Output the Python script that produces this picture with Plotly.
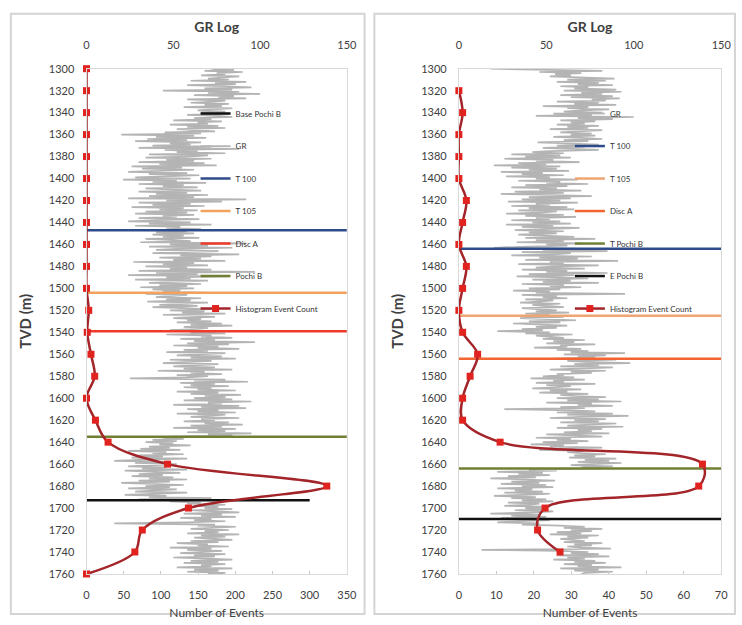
import numpy as np
import plotly.graph_objects as go

W, H = 742, 625
FONT = "Lato"
TXT = "#404040"

# ---------------- data ----------------
# Histogram event counts, one value per 20 m depth bin
ev_depth_a = list(range(1300, 1761, 20))
ev_count_a = [0, 0, 0, 0, 0, 0, 0, 0, 0, 0, 0, 3, 1, 6, 11, 0, 12, 29, 109, 323, 137, 75, 65, 0]
ev_depth_b = list(range(1320, 1741, 20))
ev_count_b = [0, 1, 0, 0, 0, 2, 1, 0, 2, 1, 0, 1, 5, 3, 1, 1, 11, 65, 64, 23, 21, 27]

# Gamma-ray log (API), 1 m samples from 1300 m to 1760 m
gr_a = [
    72, 85, 68, 90, 75, 80, 66, 88, 78, 70,
    82, 60, 92, 74, 86, 58, 79, 95, 68, 84,
    44, 88, 70, 100, 62, 85, 76, 92, 58, 80,
    73, 60, 82, 68, 78, 56, 84, 70, 64, 80,
    66, 82, 58, 76, 84, 62, 72, 50, 78, 64,
    70, 48, 76, 58, 80, 52, 68, 74, 45, 66,
    20, 62, 40, 69, 35, 58, 28, 66, 48, 60,
    38, 72, 30, 88, 45, 64, 52, 80, 36, 70,
    58, 34, 72, 46, 62, 30, 68, 42, 75, 26,
    55, 32, 62, 40, 24, 58, 36, 65, 44, 28,
    60, 21, 52, 38, 69, 30, 56, 44, 64, 34,
    48, 66, 30, 58, 40, 70, 36, 62, 24, 92,
    46, 78, 30, 60, 38, 68, 26, 56, 42, 64,
    34, 58, 28, 62, 44, 52, 30, 65, 40, 24,
    60, 36, 72, 28, 54, 46, 66, 33, 58, 40,
    62, 38, 56, 44, 65, 34, 50, 60, 31, 92,
    48, 70, 36, 84, 52, 40, 76, 58, 38, 88,
    54, 72, 42, 66, 50, 80, 27, 62, 44, 70,
    34, 58, 48, 72, 30, 97, 40, 64, 24, 82,
    46, 60, 28, 70, 52, 36, 66, 42, 58, 31,
    62, 38, 54, 44, 71, 34, 58, 48, 40, 66,
    46, 60, 35, 70, 52, 42, 64, 38, 56, 72,
    48, 68, 55, 80, 44, 62, 74, 50, 66, 58,
    72, 52, 78, 60, 84, 56, 70, 64, 48, 76,
    60, 80, 46, 72, 66, 84, 54, 74, 62, 97,
    58, 82, 50, 76, 64, 88, 56, 70, 46, 80,
    66, 52, 78, 60, 86, 48, 72, 58, 44, 76,
    62, 50, 74, 56, 84, 41, 68, 60, 78, 52,
    70, 58, 25, 80, 62, 93, 54, 74, 60, 82,
    56, 72, 64, 86, 52, 76, 60, 89, 68, 80,
    62, 84, 56, 95, 70, 78, 50, 88, 66, 92,
    58, 76, 64, 86, 52, 80, 70, 60, 88, 66,
    74, 56, 82, 68, 90, 60, 78, 50, 86, 64,
    80, 58, 95, 70, 84, 48, 44, 56, 38, 52,
    34, 50, 42, 60, 36, 48, 31, 54, 24, 46,
    38, 56, 30, 44, 26, 58, 34, 16, 48, 28,
    52, 36, 24, 46, 32, 58, 22, 40, 54, 30,
    44, 26, 50, 36, 58, 30, 48, 20, 42, 56,
    34, 48, 24, 52, 38, 28, 58, 40, 22, 46,
    36, 72, 30, 60, 48, 66, 58, 80, 62, 76,
    68, 84, 60, 74, 88, 56, 78, 66, 86, 54,
    72, 62, 80, 58, 16, 74, 64, 86, 70, 60,
    82, 68, 76, 58, 88, 66, 80, 62, 74, 84,
    60, 76, 52, 70, 64, 82, 48, 72, 58, 78,
    66, 54, 80, 62, 74, 50, 70, 84, 60, 76,
    56, 80, 66, 72, 52, 84, 62, 76, 58, 80,
    70,
]
gr_b = [
    18, 60, 82, 46, 70, 55, 64, 52, 78, 89,
    62, 84, 56, 80, 68, 88, 58, 74, 66, 90,
    60, 93, 70, 82, 58, 88, 64, 92, 76, 84,
    56, 80, 66, 90, 48, 74, 62, 86, 70, 60,
    82, 54, 76, 44, 100, 68, 88, 58, 78, 64,
    72, 56, 80, 62, 74, 52, 82, 66, 58, 76,
    64, 78, 54, 70, 82, 60, 74, 45, 68, 80,
    56, 72, 48, 66, 80, 52, 42, 60, 30, 58,
    38, 64, 26, 54, 44, 69, 34, 50, 20, 58,
    30, 56, 40, 63, 24, 48, 36, 60, 27, 52,
    44, 68, 34, 58, 50, 74, 38, 62, 30, 56,
    46, 70, 32, 60, 24, 54, 76, 40, 64, 36,
    58, 28, 68, 44, 52, 30, 62, 40, 66, 34,
    56, 46, 27, 60, 38, 67, 44, 52, 30, 58,
    42, 64, 27, 54, 36, 69, 46, 32, 60, 40,
    56, 34, 48, 66, 38, 78, 44, 60, 33, 70,
    50, 62, 40, 20, 72, 48, 85, 36, 64, 54,
    30, 76, 46, 68, 38, 91, 52, 60, 34, 80,
    56, 44, 72, 36, 62, 50, 85, 40, 66, 33,
    58, 74, 42, 64, 48, 80, 36, 60, 52, 70,
    40, 58, 31, 52, 44, 95, 36, 56, 48, 62,
    38, 54, 46, 35, 58, 42, 50, 60, 36, 48,
    56, 44, 63, 38, 52, 46, 60, 35, 54, 67,
    40, 58, 31, 50, 62, 44, 56, 36, 48, 22,
    52, 38, 65, 44, 56, 60, 48, 72, 54, 66,
    50, 78, 58, 62, 43, 70, 56, 74, 64, 95,
    60, 84, 68, 78, 54, 90, 62, 72, 98, 66,
    80, 58, 88, 70, 52, 84, 64, 76, 56, 60,
    48, 66, 41, 72, 54, 60, 44, 78, 50, 64,
    56, 42, 70, 52, 62, 46, 74, 58, 66, 84,
    56, 80, 62, 93, 50, 76, 68, 88, 58, 72,
    26, 64, 78, 56, 88, 62, 97, 70, 52, 84,
    66, 80, 58, 90, 72, 62, 94, 56, 82, 68,
    76, 60, 86, 50, 70, 82, 44, 64, 56, 74,
    48, 68, 41, 60, 52, 82, 58, 46, 72, 62,
    70, 84, 66, 78, 63, 90, 72, 86, 68, 93,
    76, 64, 88, 70, 82, 40, 56, 22, 48, 34,
    52, 28, 44, 18, 38, 55, 30, 46, 24, 50,
    36, 54, 22, 42, 32, 48, 26, 52, 38, 20,
    44, 30, 50, 36, 54, 28, 46, 40, 26, 52,
    38, 48, 32, 54, 42, 18, 46, 30, 50, 24,
    40, 52, 34, 22, 46, 36, 58, 72, 60, 82,
    64, 76, 56, 70, 52, 80, 62, 74, 58, 68,
    72, 60, 82, 66, 76, 62, 70, 87, 13, 58,
    74, 64, 80, 56, 86, 62, 72, 54, 78, 66,
    84, 60, 76, 68, 93, 58, 80, 66, 88, 72,
    70,
]
gr_depth_a = np.linspace(1300, 1760, len(gr_a))
gr_depth_b = np.linspace(1300, 1760, len(gr_b))

# Formation tops (TVD, m) and the event-axis extent of each marker line
tops_a_names = ["Base Pochi B", "T 100", "T 105", "Disc A", "Pochi B"]
tops_a_depth = [1693, 1447, 1504, 1539, 1635]
tops_a_xmax = [300, 350, 350, 350, 350]
tops_b_names = ["T 100", "T 105", "Disc A", "T Pochi B", "E Pochi B"]
tops_b_depth = [1464, 1525, 1564, 1664, 1710]
tops_b_xmax = [70, 70, 70, 70, 70]

tvd_ticks = list(range(1300, 1761, 20))
gr_ticks = [0, 50, 100, 150]
ev_ticks_a = list(range(0, 351, 50))
ev_ticks_b = list(range(0, 71, 10))

# ---------------- styles ----------------
tops_a_colors = ["#111111", "#2F4B8A", "#F2A25C", "#EE3B2B", "#6F7F34"]
tops_b_colors = ["#2F4B8A", "#F0A474", "#F26430", "#6F7F34", "#111111"]
GR_COLOR = "#B4B4B4"
EV_LINE = "#A3252A"
EV_MARK = "#E0231F"


def px_x(x):
    return x / W


def px_y(y):
    return 1 - y / H


fig = go.Figure()


def add_panel(gx, ex, ya, legend, gr, gr_depth, ev_d, ev_c, names, depths, xmax, colors, order_top_first):
    # GR log
    gr_rank = 2 if order_top_first else 1
    fig.add_trace(go.Scatter(
        x=gr, y=gr_depth, mode="lines", name="GR",
        line=dict(color=GR_COLOR, width=1.7),
        xaxis=gx, yaxis=ya, legend=legend, legendgroup=legend + "gr",
        legendrank=gr_rank, hoverinfo="skip"))
    # Formation tops
    for i, (n, d, xm, c) in enumerate(zip(names, depths, xmax, colors)):
        if order_top_first:
            r = 1 if i == 0 else i + 2
        else:
            r = i + 2
        fig.add_trace(go.Scatter(
            x=[0, xm], y=[d, d], mode="lines", name=n,
            line=dict(color=c, width=2.5),
            xaxis=ex, yaxis=ya, legend=legend, legendgroup=legend + n,
            legendrank=r))
    # Event histogram
    fig.add_trace(go.Scatter(
        x=ev_c, y=ev_d, mode="lines+markers", name="Histogram Event Count",
        line=dict(color=EV_LINE, width=2.5, shape="spline", smoothing=1.0),
        marker=dict(symbol="square", size=7, color=EV_MARK),
        cliponaxis=False,
        xaxis=ex, yaxis=ya, legend=legend, legendgroup=legend + "ev",
        legendrank=20))


add_panel("x", "x2", "y", "legend", gr_a, gr_depth_a, ev_depth_a, ev_count_a,
          tops_a_names, tops_a_depth, tops_a_xmax, tops_a_colors, True)
add_panel("x3", "x4", "y2", "legend2", gr_b, gr_depth_b, ev_depth_b, ev_count_b,
          tops_b_names, tops_b_depth, tops_b_xmax, tops_b_colors, False)

tickfont = dict(family=FONT, size=11, color=TXT)
ydom = [px_y(579), px_y(63)]
BORDER = "#D9D9D9"


def gr_axis(dom, anchor):
    return dict(domain=dom, range=[0, 150], side="top", anchor=anchor,
                tickvals=gr_ticks, showgrid=False, zeroline=False,
                showline=True, mirror=True, linecolor=BORDER, linewidth=1,
                ticks="", tickfont=tickfont, ticklabelstandoff=14,
                title=dict(text="<b>GR Log</b>", font=dict(family=FONT, size=14, color=TXT), standoff=2))


def ev_axis(rng, ticks, overlay, anchor):
    return dict(range=rng, overlaying=overlay, side="bottom", anchor=anchor,
                tickvals=ticks, showgrid=False, zeroline=False, showline=False,
                ticks="inside", ticklen=3, tickcolor="#C8C8C8",
                tickfont=tickfont, ticklabelstandoff=13,
                title=dict(text="Number of Events", font=dict(family=FONT, size=12, color=TXT), standoff=8))


def tvd_axis(anchor):
    return dict(domain=ydom, range=[1760, 1300], anchor=anchor, tickvals=tvd_ticks,
                showgrid=False, zeroline=False, showline=True, mirror=True,
                linecolor=BORDER, linewidth=1, ticks="", tickfont=tickfont,
                ticklabelstandoff=9,
                title=dict(text="<b>TVD (m)</b>", font=dict(family=FONT, size=15, color=TXT), standoff=13))


legend_common = dict(xanchor="left", yanchor="top", bgcolor="rgba(0,0,0,0)",
                     font=dict(family=FONT, size=8, color="#333333"),
                     itemwidth=30, tracegroupgap=13.5, traceorder="grouped")

fig.update_layout(
    width=W, height=H, margin=dict(l=0, r=0, t=0, b=0),
    paper_bgcolor="white", plot_bgcolor="white",
    showlegend=True,
    xaxis=gr_axis([px_x(85), px_x(350)], "y"),
    xaxis2=ev_axis([0, 350], ev_ticks_a, "x", "y"),
    yaxis=tvd_axis("x"),
    xaxis3=gr_axis([px_x(464), px_x(731)], "y2"),
    xaxis4=ev_axis([0, 70], ev_ticks_b, "x3", "y2"),
    yaxis2=tvd_axis("x3"),
    legend=dict(x=px_x(196), y=px_y(94), **legend_common),
    legend2=dict(x=px_x(577), y=px_y(94), **legend_common),
    shapes=[
        dict(type="rect", xref="paper", yref="paper", x0=px_x(8), x1=px_x(368),
             y0=px_y(620), y1=px_y(7), line=dict(color="#D4D4D4", width=2)),
        dict(type="rect", xref="paper", yref="paper", x0=px_x(378), x1=px_x(745),
             y0=px_y(620), y1=px_y(7), line=dict(color="#D4D4D4", width=2)),
    ],
)

fig.write_html("out.html")
